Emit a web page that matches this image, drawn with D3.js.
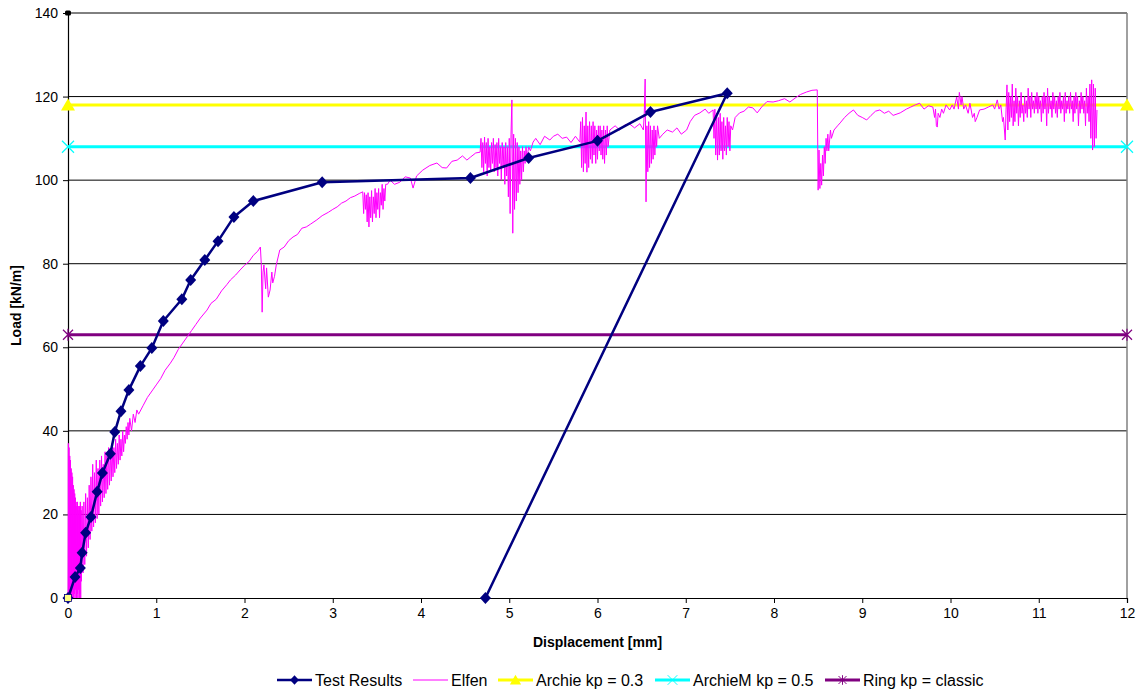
<!DOCTYPE html>
<html><head><meta charset="utf-8">
<script src="https://cdn.jsdelivr.net/npm/d3@7/dist/d3.min.js"></script>
<style>body{margin:0;background:#fff}svg{display:block;font-family:"Liberation Sans",Arial,sans-serif}</style>
</head><body>
<svg id="c" width="1145" height="691"></svg>
<script>
// ---------- data ----------
const xTicks = [0,1,2,3,4,5,6,7,8,9,10,11,12];
const yTicks = [0,20,40,60,80,100,120,140];
const seriesNames = ["Test Results","Elfen","Archie kp = 0.3","ArchieM kp = 0.5","Ring kp = classic"];

const testDisp = [0,0.08,0.14,0.16,0.2,0.26,0.33,0.39,0.48,0.53,0.6,0.69,0.82,0.95,1.08,1.29,1.39,1.55,1.7,1.88,2.1,2.88,4.56,5.22,6.0,6.6,7.47,4.73];
const testLoad = [0,5.0,7.2,10.8,15.6,19.4,25.4,29.9,34.5,39.7,44.7,49.8,55.5,59.8,66.3,71.5,76.1,80.9,85.4,91.2,95.0,99.5,100.5,105.3,109.4,116.3,120.8,0];

// Elfen: [displacement mm, load kN/m]
const elfen = [
[0,0],[0.004,37],[0.008,1],[0.012,36],[0.016,0],[0.02,34],[0.024,2],[0.028,33],[0.032,0],[0.036,31],[0.04,1],[0.044,30],[0.048,0],[0.052,29],[0.056,2],[0.06,27],[0.064,0],[0.068,26],[0.072,1],[0.076,25],[0.08,0],[0.084,24],[0.088,2],[0.092,23],[0.096,0],[0.1,22],[0.104,1],[0.108,23],[0.112,0],[0.116,22],[0.12,2],[0.124,21],[0.128,0],[0.132,22],[0.136,1],[0.14,23],[0.144,0],[0.148,21],[0.152,4],
[0.16,22],[0.17,6],[0.18,23],[0.19,8],[0.2,25],[0.21,10],[0.22,24],[0.23,12],[0.24,27],[0.25,14],[0.26,29],[0.27,16],[0.28,32],[0.29,17],[0.3,30],[0.31,18],[0.32,33],[0.33,19],[0.34,31],[0.35,20],[0.36,33],[0.37,22],[0.38,34],[0.39,23],[0.4,32],[0.41,24],[0.42,35],[0.43,25],[0.44,34],[0.45,26],[0.46,36],[0.47,27],[0.48,35],[0.49,28],[0.5,37],[0.51,29],[0.52,36],[0.53,30],[0.54,38],[0.55,31],[0.56,37],[0.57,32],[0.58,39],[0.59,33],[0.6,38],[0.61,34],[0.62,40],[0.63,35],[0.64,39],[0.65,37],[0.66,41],[0.67,38],[0.68,42],[0.69,39],[0.7,43],[0.72,40],[0.74,44],[0.76,42],[0.78,45],[0.8,44],
[0.85,46],[0.9,48],[0.96,49.8],[1.0,51],[1.05,52.5],[1.1,54.5],[1.16,56.2],[1.2,57.5],[1.25,59.5],[1.3,61],[1.35,62.5],[1.4,64],[1.45,65.5],[1.5,67],[1.575,68.9],[1.62,70.5],[1.68,71.5],[1.74,73.5],[1.8,75],[1.84,76.1],[1.9,77.3],[1.95,78.5],[2.0,79.6],[2.05,80.5],[2.1,82],[2.15,83],[2.18,84],[2.19,80],[2.2,68.4],[2.21,78],[2.22,79.7],[2.24,74],[2.25,79],[2.27,72],[2.29,73.7],[2.31,78],[2.32,75.4],[2.34,77],[2.36,79.7],[2.4,83.3],[2.45,84],[2.5,85.5],[2.55,86.4],[2.6,87],[2.65,88.5],[2.7,88.8],[2.75,89.5],[2.82,90.5],[2.88,91.5],[2.95,92.3],[3.0,93],[3.05,93.6],[3.1,94.5],[3.15,95],[3.2,95.8],[3.25,96.2],[3.3,96.8],
[3.34,97.2],[3.35,92],[3.36,97],[3.37,93],[3.38,96.5],[3.39,90],[3.4,97],[3.41,88.8],[3.42,96],[3.43,91],[3.44,97.5],[3.45,90],[3.46,96],[3.47,92],[3.48,98],[3.49,91],[3.5,97],[3.51,93],[3.52,98],[3.53,91],[3.54,97],[3.55,94],[3.56,99],[3.57,93],[3.58,98],[3.59,95],[3.6,99],[3.62,99],[3.65,100],[3.7,99],[3.76,99.5],[3.82,100.8],[3.88,100.5],[3.91,98.1],[3.95,101],[4.02,102.4],[4.1,103.5],[4.18,104.1],[4.24,103],[4.29,102.9],[4.35,104.5],[4.41,104.8],[4.47,105.8],[4.52,104.8],[4.56,105.5],[4.62,106.5],
[4.67,106.7],[4.68,110],[4.69,103],[4.7,109],[4.71,102],[4.72,110.3],[4.73,104],[4.74,109],[4.75,101],[4.76,110],[4.77,103],[4.78,108],[4.79,102],[4.8,109],[4.81,104],[4.82,110],[4.83,102],[4.84,108.5],[4.85,103],[4.86,109],[4.87,101],[4.88,110],[4.89,104],[4.9,108],[4.91,100],[4.92,109],[4.93,103],[4.94,108],[4.95,99],[4.96,109],[4.97,101],[4.98,108],[4.99,96],[5.0,110],[5.01,92],[5.02,111],[5.03,119.2],[5.04,87.3],[5.05,111],[5.06,93],[5.07,110],[5.08,95],[5.09,109],[5.1,97],[5.11,108],[5.12,99],[5.13,107],[5.14,100],[5.15,108],[5.16,102],[5.17,107],[5.18,104],[5.19,108],[5.2,105],[5.22,108],[5.24,107],[5.27,109.1],[5.3,110],[5.35,108.5],[5.4,110.5],[5.46,109.6],[5.5,110.5],[5.55,111],[5.6,110],[5.65,110.3],[5.7,109],[5.75,110.5],
[5.8,109.1],[5.81,114],[5.82,103],[5.83,115],[5.84,102],[5.85,113],[5.86,104],[5.87,116.3],[5.88,101.9],[5.89,113],[5.9,103],[5.91,114],[5.92,105],[5.93,113],[5.94,104],[5.95,114],[5.96,106],[5.97,113],[5.98,104],[5.99,112],[6.0,105],[6.01,113],[6.02,107],[6.03,113],[6.04,106],[6.05,112],[6.06,105],[6.07,113],[6.08,104],[6.09,112],[6.1,106],[6.11,113],[6.12,108],[6.14,112],[6.2,113],[6.25,112],[6.31,113.2],[6.36,113.5],[6.42,112.5],[6.48,113.5],
[6.52,112],[6.53,116],[6.54,124.2],[6.55,94.8],[6.56,113],[6.57,102],[6.58,114],[6.59,103],[6.6,113],[6.61,104],[6.62,112],[6.63,105],[6.64,113],[6.65,106],[6.66,112],[6.67,108],[6.68,113],[6.7,110],[6.74,111],[6.79,112],[6.85,111.5],[6.9,112.5],[6.95,111],[7.01,112],[7.05,114],[7.1,115.5],[7.16,116.1],[7.22,117],[7.26,116],
[7.31,116.8],[7.32,110],[7.33,117],[7.34,106],[7.35,116],[7.36,104.8],[7.37,115],[7.38,106],[7.39,116],[7.4,107],[7.41,114],[7.42,105],[7.43,115],[7.44,107],[7.45,113],[7.46,106],[7.47,115],[7.48,108],[7.49,114],[7.5,107],[7.51,113],[7.53,112],[7.56,115],[7.61,116.1],[7.66,116.5],[7.71,117.5],[7.76,117.3],[7.81,116.1],[7.86,117.5],[7.92,118.8],[7.99,118.7],[8.05,119],[8.12,119.5],[8.18,118.7],[8.25,119.8],[8.3,120.5],[8.37,121.1],[8.43,121.5],[8.49,121.6],
[8.5,97.6],[8.51,107.2],[8.52,98],[8.53,104],[8.54,98.8],[8.55,106],[8.56,101],[8.57,108],[8.58,104],[8.59,110],[8.6,107],[8.61,111],[8.62,107],[8.64,112],[8.65,110],[8.68,112],[8.72,113],[8.75,113.7],[8.8,115],[8.85,116],[8.9,116.8],[8.95,115.5],[9.0,115],[9.05,114.4],[9.1,115.5],[9.15,116.5],[9.2,116.8],[9.25,116],[9.3,116.5],[9.35,115.5],[9.43,116.1],[9.5,117],[9.55,117.5],[9.6,118],[9.65,118.4],[9.7,117],[9.75,117.8],[9.8,117.5],[9.82,115],[9.83,117],[9.84,113],[9.85,112.7],[9.86,116],[9.88,115],[9.9,117],[9.92,116],[9.95,118],[9.99,116.8],[10.02,118],[10.04,117],[10.07,119.9],[10.09,117],[10.1,121],[10.12,118],[10.13,120],[10.15,117],[10.17,118],[10.2,116],[10.22,118.4],[10.25,115],[10.27,116],[10.28,114],[10.3,115],[10.33,116.8],[10.38,117],[10.43,117.5],[10.48,118],[10.5,117],[10.53,119.2],[10.55,117],[10.57,118],[10.59,114],[10.6,115],
[10.62,109.6],[10.63,117],[10.64,122.8],[10.65,112],[10.66,121],[10.67,114],[10.68,120],[10.69,115],[10.7,123],[10.71,113],[10.72,119],[10.73,114],[10.74,122],[10.75,116],[10.76,120],[10.77,113],[10.78,119],[10.79,115],[10.8,121],[10.81,116],[10.82,118],[10.83,114],[10.84,120],[10.85,116],[10.86,119],[10.87,115],[10.88,122],[10.89,117],[10.9,120],[10.91,115],[10.92,121],[10.93,117],[10.94,119],[10.95,116],[10.96,120],[10.97,117],[10.98,121],[10.99,116],[11.0,120],[11.01,117],[11.02,119],[11.03,114],[11.04,120],[11.05,116],[11.06,121],[11.07,117],[11.08,120],[11.09,113],[11.1,122],[11.11,116],[11.12,120],[11.13,117],[11.14,119],[11.15,115],[11.16,121],[11.17,117],[11.18,120],[11.19,116],[11.2,119],[11.21,115],[11.22,120],[11.23,117],[11.24,121],[11.25,116],[11.26,119],[11.27,117],[11.28,120],[11.29,114],[11.3,121],[11.31,116],[11.32,119],[11.33,117],[11.34,120],[11.35,116],[11.36,121],[11.37,117],[11.38,119],[11.39,114],[11.4,120],[11.41,116],[11.42,121],[11.43,117],[11.44,120],[11.45,113],[11.46,119],[11.47,116],[11.48,121],[11.49,117],[11.5,120],[11.51,116],[11.52,119],[11.53,113],[11.54,122],[11.55,116],[11.56,120],[11.57,114],[11.58,123],[11.59,110],[11.6,124],[11.61,107.2],[11.62,123],[11.63,108],[11.64,122],[11.65,110],[11.66,116.8]
];

const archieLoad = 118, archieMLoad = 108, ringLoad = 63;
const flatDisp = [0, 12];

const colors = {test:"#000080", elfen:"#FF00FF", archie:"#FFFF00", archieM:"#00FFFF", ring:"#800080"};

// ---------- chart ----------
const svg = d3.select("#c");
const x = d3.scaleLinear().domain([0,12]).range([68,1127]);
const y = d3.scaleLinear().domain([0,140]).range([598,13]);

// gridlines
svg.append("g").selectAll("line").data(yTicks.filter(d=>d>0)).join("line")
  .attr("x1", x(0)).attr("x2", x(12)).attr("y1", d=>y(d)).attr("y2", d=>y(d))
  .attr("stroke", "#000").attr("stroke-width", 1);
// right border
svg.append("line").attr("x1", x(12)).attr("x2", x(12)).attr("y1", y(140)).attr("y2", y(0))
  .attr("stroke", "#808080").attr("stroke-width", 1.5);

// axes
const xAxis = d3.axisBottom(x).tickValues(xTicks).tickSize(5).tickPadding(5).tickFormat(d3.format("d"));
const yAxis = d3.axisLeft(y).tickValues(yTicks).tickSize(5).tickPadding(5).tickFormat(d3.format("d"));
const gx = svg.append("g").attr("transform", `translate(0,${y(0)})`).call(xAxis);
const gy = svg.append("g").attr("transform", `translate(${x(0)},0)`).call(yAxis);
[gx, gy].forEach(g => {
  g.select(".domain").attr("stroke", "#000").attr("stroke-width", 1.2);
  g.selectAll(".tick line").attr("stroke", "#000");
  g.selectAll(".tick text").attr("font-size", 14).attr("fill", "#000")
    .attr("font-family", '"Liberation Sans",Arial,sans-serif');
});

// axis titles
svg.append("text").attr("x", (x(0)+x(12))/2).attr("y", 647).attr("text-anchor","middle")
  .attr("font-size", 14).attr("font-weight","bold").text("Displacement [mm]");
svg.append("text").attr("transform", `translate(21,${(y(0)+y(140))/2}) rotate(-90)`).attr("text-anchor","middle")
  .attr("font-size", 14).attr("font-weight","bold").text("Load [kN/m]");

// marker shapes
const diamondPath = "M0,-6L5.5,0L0,6L-5.5,0Z";
const triPath = "M0,-6.5L7,5.5L-7,5.5Z";
const xPath = "M-6,-6L6,6M-6,6L6,-6";
const starPath = "M-5,-5L5,5M-5,5L5,-5M0,-6L0,6";

// flat lines
const flat = [
  {v: archieLoad, c: colors.archie, m: triPath, fill: true},
  {v: archieMLoad, c: colors.archieM, m: xPath, fill: false},
  {v: ringLoad, c: colors.ring, m: starPath, fill: false}
];
flat.forEach(f => {
  svg.append("line").attr("x1", x(flatDisp[0])).attr("x2", x(flatDisp[1]))
    .attr("y1", y(f.v)).attr("y2", y(f.v)).attr("stroke", f.c).attr("stroke-width", 3);
});

// Elfen
svg.append("path").datum(elfen)
  .attr("d", d3.line().x(d=>x(d[0])).y(d=>y(d[1])))
  .attr("fill","none").attr("stroke", colors.elfen).attr("stroke-width", 1);

// flat line markers
flat.forEach(f => {
  svg.append("g").selectAll("path").data(flatDisp).join("path")
    .attr("transform", d=>`translate(${x(d)},${y(f.v)})`).attr("d", f.m)
    .attr("fill", f.fill ? f.c : "none").attr("stroke", f.c).attr("stroke-width", f.fill?0:1.2);
});

// Test results
const testPts = testDisp.map((d,i)=>[d, testLoad[i]]);
svg.append("path").datum(testPts)
  .attr("d", d3.line().x(d=>x(d[0])).y(d=>y(d[1])))
  .attr("fill","none").attr("stroke", colors.test).attr("stroke-width", 2.5).attr("stroke-linejoin","round");
svg.append("g").selectAll("path").data(testPts).join("path")
  .attr("transform", d=>`translate(${x(d[0])},${y(d[1])})`).attr("d", diamondPath)
  .attr("fill", colors.test);

// small origin / top markers
svg.append("rect").attr("x", x(0)-3.5).attr("y", y(0)-3.5).attr("width",7).attr("height",7)
  .attr("fill","#ffff80").attr("stroke","#000080").attr("stroke-width",0.8);
svg.append("rect").attr("x", x(0)-3).attr("y", y(140)-2.5).attr("width",6).attr("height",5)
  .attr("fill","#000").attr("rx",1.5);

// legend
const legend = [
  {name: seriesNames[0], c: colors.test, m: diamondPath, fill: true, w: 2.5, lx: 277},
  {name: seriesNames[1], c: colors.elfen, m: null, fill: false, w: 1, lx: 413},
  {name: seriesNames[2], c: colors.archie, m: triPath, fill: true, w: 3, lx: 498},
  {name: seriesNames[3], c: colors.archieM, m: xPath, fill: false, w: 3, lx: 655},
  {name: seriesNames[4], c: colors.ring, m: starPath, fill: false, w: 3, lx: 825}
];
const ly = 680;
const lg = svg.append("g");
legend.forEach(l => {
  lg.append("line").attr("x1", l.lx).attr("x2", l.lx+35).attr("y1", ly).attr("y2", ly)
    .attr("stroke", l.c).attr("stroke-width", l.w);
  if (l.m) lg.append("path").attr("transform", `translate(${l.lx+17.5},${ly}) scale(0.8)`).attr("d", l.m)
    .attr("fill", l.fill ? l.c : "none").attr("stroke", l.c).attr("stroke-width", l.fill?0:1.2);
  lg.append("text").attr("x", l.lx+38).attr("y", ly+5.5).attr("font-size", 16).attr("fill","#000").text(l.name);
});
</script>
</body></html>
